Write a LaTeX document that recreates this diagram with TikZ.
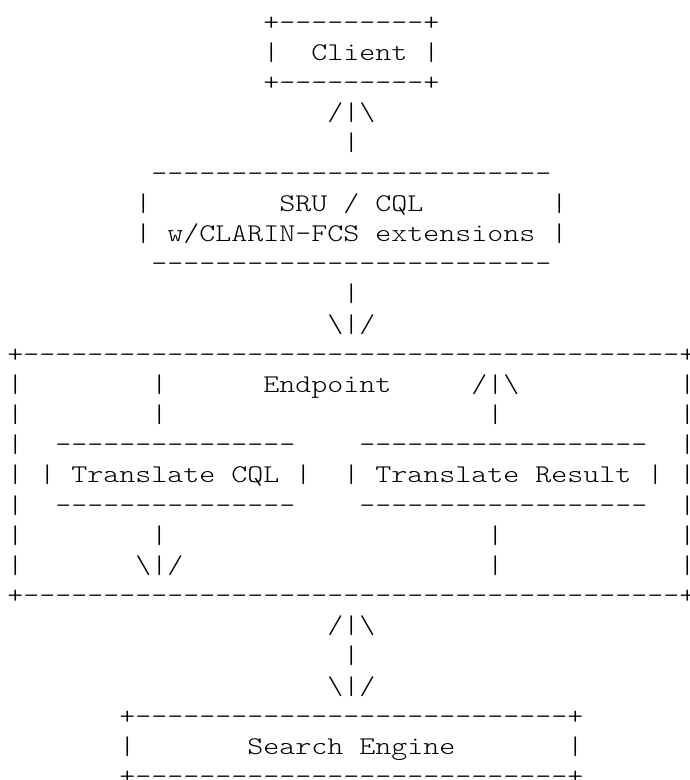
\documentclass[tikz,border=0pt]{standalone}
\newcommand\dsh[1]{\foreach\ii in {1,...,#1}{-\kern0pt}}
\newcommand\spc[1]{\foreach\ii in {1,...,#1}{~}}
\newcommand\bsl{\textbackslash}
\newcommand\asc[1]{\scalebox{1.195}[1]{#1}}
\tikzset{
  asciiline/.style={anchor=base west, inner sep=0pt, outer sep=0pt, text=black,
    font=\fontfamily{lmtt}\fontseries{l}\fontsize{25.5}{30}\selectfont}
}
\begin{document}
\begin{tikzpicture}
\fill[white] (0,0) rectangle (690pt,-780pt);
\useasboundingbox (0,0) rectangle (690pt,-780pt);
\node[asciiline] (l1) at (7.4pt,-30.30pt) {\asc{\spc{16}+\dsh{9}+}};
\node[asciiline] (l2) at (7.4pt,-60.47pt) {\asc{\spc{16}|~~Client~|}};
\node[asciiline] (l3) at (7.4pt,-90.64pt) {\asc{\spc{16}+\dsh{9}+}};
\node[asciiline] (l4) at (7.4pt,-120.81pt) {\asc{\spc{20}/|\bsl}};
\node[asciiline] (l5) at (7.4pt,-150.98pt) {\asc{\spc{21}|}};
\node[asciiline] (l6) at (7.4pt,-181.15pt) {\asc{\spc{9}\dsh{25}}};
\node[asciiline] (l7) at (7.4pt,-211.32pt) {\asc{\spc{8}|\spc{8}SRU~/~CQL\spc{8}|}};
\node[asciiline] (l8) at (7.4pt,-241.49pt) {\asc{\spc{8}|~w/CLARIN-FCS~extensions~|}};
\node[asciiline] (l9) at (7.4pt,-271.66pt) {\asc{\spc{9}\dsh{25}}};
\node[asciiline] (l10) at (7.4pt,-301.83pt) {\asc{\spc{21}|}};
\node[asciiline] (l11) at (7.4pt,-332.00pt) {\asc{\spc{20}\bsl|/}};
\node[asciiline] (l12) at (7.4pt,-362.17pt) {\asc{+\dsh{41}+}};
\node[asciiline] (l13) at (7.4pt,-392.34pt) {\asc{|\spc{8}|\spc{6}Endpoint\spc{5}/|\bsl\spc{10}|}};
\node[asciiline] (l14) at (7.4pt,-422.51pt) {\asc{|\spc{8}|\spc{20}|\spc{11}|}};
\node[asciiline] (l15) at (7.4pt,-452.68pt) {\asc{|~~\dsh{15}\spc{4}\dsh{18}~~|}};
\node[asciiline] (l16) at (7.4pt,-482.85pt) {\asc{|~|~Translate~CQL~|~~|~Translate~Result~|~|}};
\node[asciiline] (l17) at (7.4pt,-513.02pt) {\asc{|~~\dsh{15}\spc{4}\dsh{18}~~|}};
\node[asciiline] (l18) at (7.4pt,-543.19pt) {\asc{|\spc{8}|\spc{20}|\spc{11}|}};
\node[asciiline] (l19) at (7.4pt,-573.36pt) {\asc{|\spc{7}\bsl|/\spc{19}|\spc{11}|}};
\node[asciiline] (l20) at (7.4pt,-603.53pt) {\asc{+\dsh{41}+}};
\node[asciiline] (l21) at (7.4pt,-633.70pt) {\asc{\spc{20}/|\bsl}};
\node[asciiline] (l22) at (7.4pt,-663.87pt) {\asc{\spc{21}|}};
\node[asciiline] (l23) at (7.4pt,-694.04pt) {\asc{\spc{20}\bsl|/}};
\node[asciiline] (l24) at (7.4pt,-724.21pt) {\asc{\spc{7}+\dsh{27}+}};
\node[asciiline] (l25) at (7.4pt,-754.38pt) {\asc{\spc{7}|\spc{7}Search~Engine\spc{7}|}};
\node[asciiline] (l26) at (7.4pt,-784.55pt) {\asc{\spc{7}+\dsh{27}+}};
\end{tikzpicture}
\end{document}
